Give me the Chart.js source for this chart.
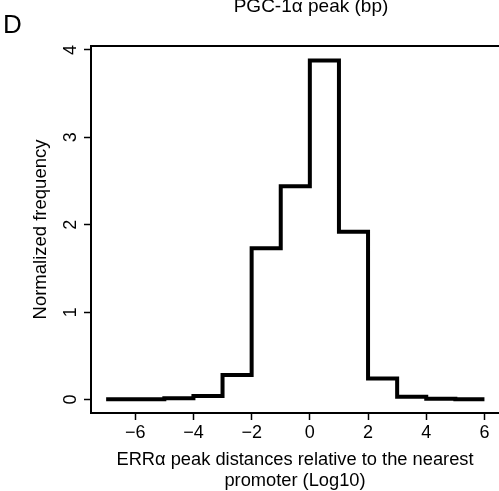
<!DOCTYPE html>
<html>
<head>
<meta charset="utf-8">
<script src="https://cdn.jsdelivr.net/npm/chart.js@4.4.0/dist/chart.umd.min.js"></script>
<style>
  html, body { margin: 0; padding: 0; background: #fff; overflow: hidden; }
  #wrap { width: 499px; height: 491px; }
</style>
</head>
<body>
<div id="wrap"><canvas id="histERR"></canvas></div>
<script>
// bin left edges (log10 distance) and normalized frequency per bin
var binStarts = [-7, -6, -5, -4, -3, -2, -1, 0, 1, 2, 3, 4, 5];
var binWidth = 1;
var freqValues = [0.002, 0.002, 0.014, 0.04, 0.28, 1.73, 2.44, 3.88, 1.92, 0.24, 0.032, 0.009, 0.002];
var xTicks = [-6, -4, -2, 0, 2, 4, 6];
var yTicks = [0, 1, 2, 3, 4];

var FONT = '"Liberation Sans", Arial, sans-serif';

// step outline: each bin start plus the final right edge
var stepPoints = binStarts.map(function (b, i) { return { x: b, y: freqValues[i] }; });
stepPoints.push({ x: binStarts[binStarts.length - 1] + binWidth, y: freqValues[freqValues.length - 1] });

var extras = {
  id: 'extras',
  afterDraw: function (chart) {
    var c = chart.ctx, a = chart.chartArea;
    c.save();
    // top frame line
    c.strokeStyle = '#000';
    c.lineWidth = 2;
    c.beginPath();
    c.moveTo(a.left - 1, a.top);
    c.lineTo(a.right + 2, a.top);
    c.stroke();
    // panel letter and clipped title from the figure above
    c.fillStyle = '#000';
    c.textBaseline = 'alphabetic';
    c.textAlign = 'left';
    c.font = '26px ' + FONT;
    c.fillText('D', 3, 33);
    c.textAlign = 'center';
    c.font = '19px ' + FONT;
    c.fillText('PGC-1\u03b1 peak (bp)', 311, 12);
    c.restore();
  }
};

var ctx = document.getElementById('histERR').getContext('2d');
var histERR = new Chart(ctx, {
  type: 'line',
  data: {
    datasets: [{
      data: stepPoints,
      stepped: 'before',
      borderColor: '#000',
      borderWidth: 4,
      pointRadius: 0,
      fill: false,
      borderJoinStyle: 'miter',
      borderCapStyle: 'butt'
    }]
  },
  options: {
    responsive: true,
    maintainAspectRatio: false,
    animation: false,
    layout: { padding: { top: 46, right: 0, bottom: 0, left: 0 } },
    plugins: { legend: { display: false }, tooltip: { enabled: false } },
    scales: {
      x: {
        type: 'linear',
        min: -7.52,
        max: 6.5,
        afterFit: function (s) { s.height = 78; },
        afterBuildTicks: function (s) { s.ticks = xTicks.map(function (v) { return { value: v }; }); },
        grid: { drawOnChartArea: false, drawTicks: true, tickLength: 7, tickWidth: 1.5, tickColor: '#000' },
        border: { display: true, color: '#000', width: 2 },
        ticks: {
          color: '#000',
          padding: 2,
          maxRotation: 0,
          font: { family: FONT, size: 18 },
          callback: function (v) { return String(v).replace('-', '\u2212'); }
        },
        title: {
          display: true,
          text: ['ERR\u03b1 peak distances relative to the nearest', 'promoter (Log10)'],
          color: '#000',
          font: { family: FONT, size: 18.3, lineHeight: '21px' },
          padding: { top: 0, bottom: 0 }
        }
      },
      y: {
        min: -0.154,
        max: 4.045,
        afterFit: function (s) { s.width = 91; },
        afterBuildTicks: function (s) { s.ticks = yTicks.map(function (v) { return { value: v }; }); },
        grid: { drawOnChartArea: false, drawTicks: true, tickLength: 7, tickWidth: 1.5, tickColor: '#000' },
        border: { display: true, color: '#000', width: 2 },
        ticks: {
          color: '#000',
          padding: 8,
          minRotation: 90,
          maxRotation: 90,
          crossAlign: 'center',
          font: { family: FONT, size: 18 }
        },
        title: {
          display: true,
          text: 'Normalized frequency',
          color: '#000',
          font: { family: FONT, size: 18.5, lineHeight: '21px' },
          padding: { top: 30, bottom: 0 }
        }
      }
    }
  },
  plugins: [extras]
});
</script>
</body>
</html>
